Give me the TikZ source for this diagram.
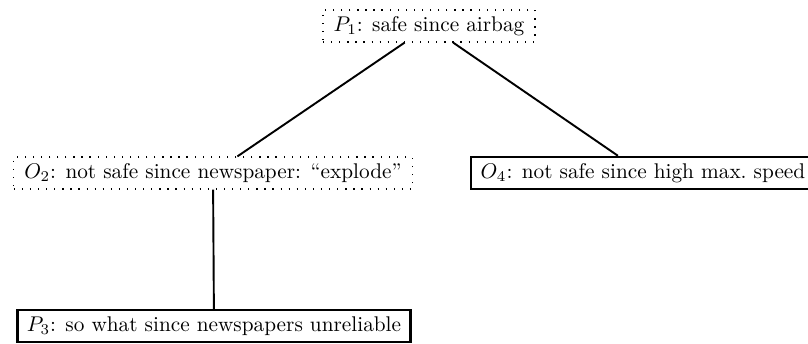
\documentclass[tikz,border=0pt]{standalone}
\begin{document}
\begin{tikzpicture}[x=0.47pt,y=-0.47pt,
  arg/.style={draw,rectangle,inner xsep=4.5pt,inner ysep=0pt,minimum height=15pt},
  dotarg/.style={arg,inner xsep=5pt,line width=0.6pt,dash pattern=on 0.6pt off 3.2pt},
  solidarg/.style={arg,line width=1.2pt},
  attack/.style={line width=0.9pt}]
\useasboundingbox (0,0) rectangle (808,343);
\node[dotarg] (p1) at (429,26) {$P_1$: safe since airbag};
\node[dotarg] (o2) at (213,173) {$O_2$: not safe since newspaper: ``explode''};
\node[solidarg] (o4) at (643,173) {$O_4$: not safe since high max.\ speed};
\node[solidarg] (p3) at (214,326) {$P_3$: so what since newspapers unreliable};
\draw[attack] (p1) -- (o2);
\draw[attack] (p1) -- (o4);
\draw[attack] (o2) -- (p3);
\end{tikzpicture}
\end{document}
